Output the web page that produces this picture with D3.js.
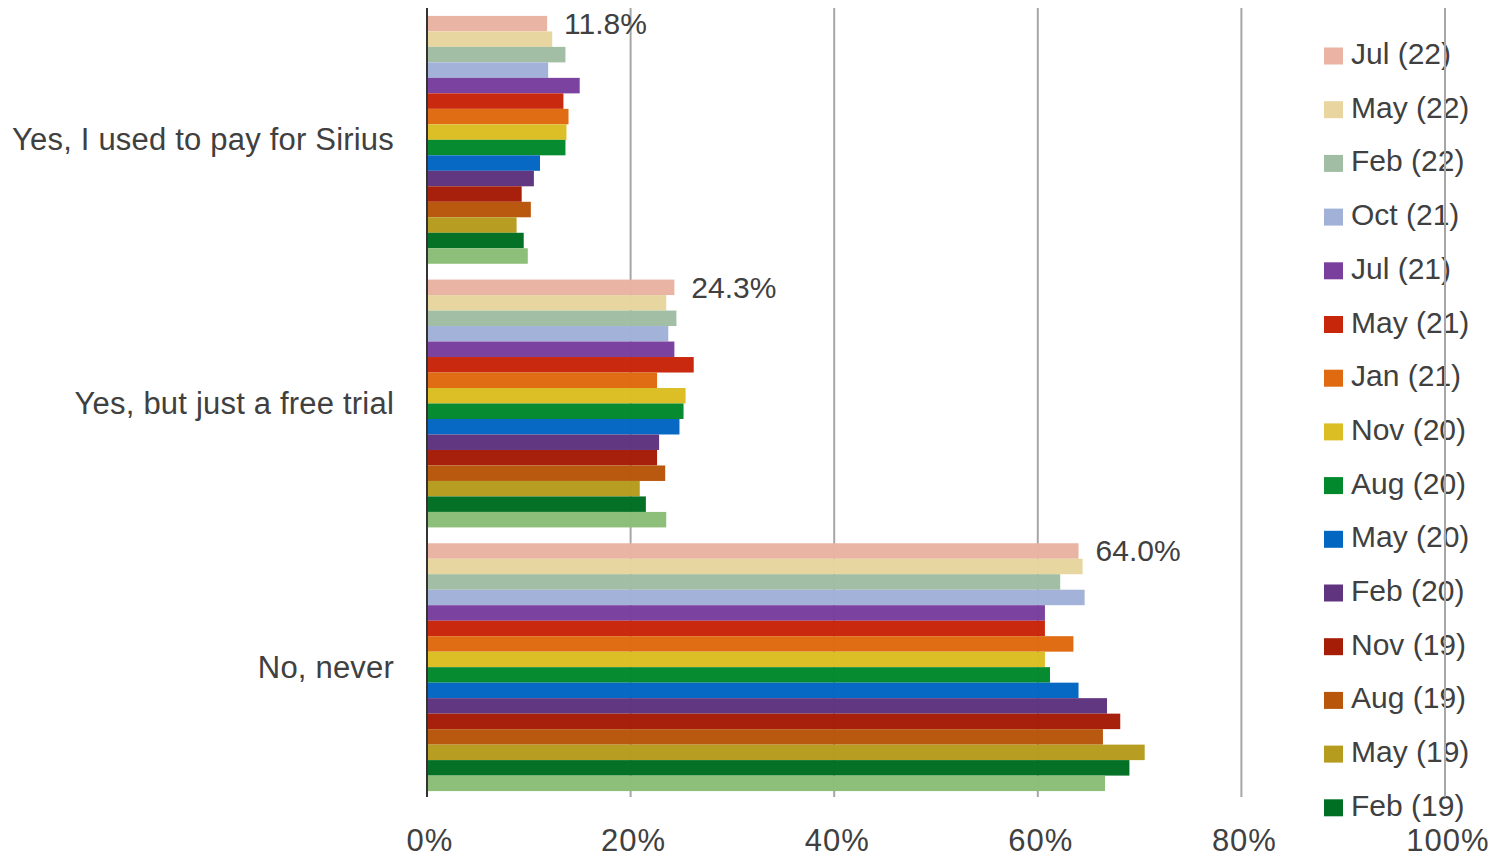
<!DOCTYPE html>
<html>
<head>
<meta charset="utf-8">
<script src="https://cdn.jsdelivr.net/npm/d3@7"></script>
<style>
  html, body { margin: 0; padding: 0; background: #fff; }
  svg { display: block; font-family: "Liberation Sans", Arial, sans-serif; }
</style>
</head>
<body>
<svg id="chart" width="1507" height="857"></svg>
<script>
const categories = ["Yes, I used to pay for Sirius", "Yes, but just a free trial", "No, never"];
const seriesNames = ["Jul (22)", "May (22)", "Feb (22)", "Oct (21)", "Jul (21)", "May (21)", "Jan (21)", "Nov (20)",
                     "Aug (20)", "May (20)", "Feb (20)", "Nov (19)", "Aug (19)", "May (19)", "Feb (19)", "Nov (18)"];
const seriesColors = ["#EAB3A3", "#E8D5A0", "#A1BDA3", "#A1B1D8", "#7A3F9D", "#C8260A", "#DF6A10", "#DBBE24",
                      "#02892D", "#0367C2", "#60347F", "#A51C07", "#B8560B", "#B69C1E", "#006F24", "#8BBE79"];
// values per category, in series order
const paidValues  = [11.8, 12.3, 13.6, 11.9, 15.0, 13.4, 13.9, 13.7, 13.6, 11.1, 10.5, 9.3, 10.2, 8.8, 9.5, 9.9];
const trialValues = [24.3, 23.5, 24.5, 23.7, 24.3, 26.2, 22.6, 25.4, 25.2, 24.8, 22.8, 22.6, 23.4, 20.9, 21.5, 23.5];
const neverValues = [64.0, 64.4, 62.2, 64.6, 60.7, 60.7, 63.5, 60.7, 61.2, 64.0, 66.8, 68.1, 66.4, 70.5, 69.0, 66.6];
const xTicks = [0, 20, 40, 60, 80, 100];
const labeledSeries = "Jul (22)";

const valuesByCat = [paidValues, trialValues, neverValues];
const data = categories.map((c, i) => ({
  category: c,
  values: seriesNames.map((s, j) => ({ series: s, value: valuesByCat[i][j], color: seriesColors[j] }))
}));

const svg = d3.select("#chart");
const textColor = "#404040";
const plotTop = 8, plotBottom = 797;

const x = d3.scaleLinear().domain([0, 100]).range([427, 1445]);
const y0 = d3.scaleBand().domain(categories).range([8, 799]).paddingInner(0.06).paddingOuter(0.03);
const y1 = d3.scaleBand().domain(seriesNames).range([0, y0.bandwidth()]);

// Legend (drawn under gridlines, as in reference)
const legend = svg.append("g");
const legendTop = 56, legendStep = 53.7;
seriesNames.forEach((s, i) => {
  const cy = legendTop + i * legendStep;
  if (cy + 10 > 857) return;
  legend.append("rect").attr("x", 1324).attr("y", cy - 8.5).attr("width", 19).attr("height", 17)
    .attr("fill", seriesColors[i]);
  legend.append("text").attr("x", 1351).attr("y", cy + 8).attr("font-size", 30)
    .attr("fill", textColor).text(s);
});

// Gridlines
svg.append("g").selectAll("line").data(xTicks.filter(t => t > 0)).join("line")
  .attr("x1", d => x(d)).attr("x2", d => x(d))
  .attr("y1", plotTop).attr("y2", plotBottom)
  .attr("stroke", "#A6A6A6").attr("stroke-width", 2);

// Bars (slightly translucent so gridlines show faintly, as in reference)
const groups = svg.append("g").selectAll("g").data(data).join("g")
  .attr("transform", d => `translate(0,${y0(d.category)})`);
groups.selectAll("rect").data(d => d.values).join("rect")
  .attr("x", x(0))
  .attr("y", d => y1(d.series))
  .attr("width", d => x(d.value) - x(0))
  .attr("height", y1.bandwidth())
  .attr("fill", d => d.color)
  .attr("fill-opacity", 0.985);

// Vertical axis line
svg.append("line").attr("x1", x(0)).attr("x2", x(0)).attr("y1", plotTop).attr("y2", plotBottom)
  .attr("stroke", "#333333").attr("stroke-width", 2);

// X tick labels
svg.append("g").selectAll("text").data(xTicks).join("text")
  .attr("x", d => x(d) + 3).attr("y", 851)
  .attr("text-anchor", "middle").attr("font-size", 31).attr("letter-spacing", 1)
  .attr("fill", textColor).text(d => d + "%");

// Category labels
svg.append("g").selectAll("text").data(categories).join("text")
  .attr("x", 394).attr("y", d => y0(d) + y0.bandwidth() / 2 + 10.5)
  .attr("text-anchor", "end").attr("font-size", 31).attr("letter-spacing", 0.2)
  .attr("fill", textColor).text(d => d);

// Value labels for latest series
svg.append("g").selectAll("text")
  .data(data.map(d => ({ category: d.category, v: d.values.find(v => v.series === labeledSeries) })))
  .join("text")
  .attr("x", d => x(d.v.value) + 17)
  .attr("y", d => y0(d.category) + y1(labeledSeries) + y1.bandwidth() / 2 + 10.5)
  .attr("font-size", 30).attr("fill", textColor)
  .text(d => d.v.value.toFixed(1) + "%");
</script>
</body>
</html>
